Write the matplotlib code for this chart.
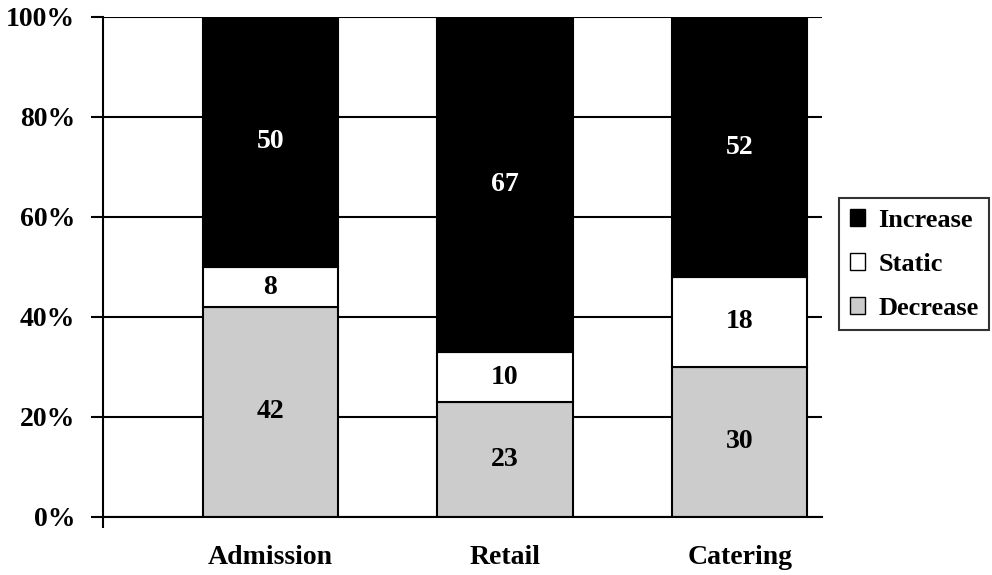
import matplotlib
matplotlib.use("Agg")
import matplotlib.pyplot as plt
from matplotlib.patches import Patch
import numpy as np

categories = ["Admission", "Retail", "Catering"]
decrease = [42, 23, 30]
static = [8, 10, 18]
increase = [50, 67, 52]
series_names = ["Increase", "Static", "Decrease"]
ytick_labels = ["0%", "20%", "40%", "60%", "80%", "100%"]

plt.rcParams['font.family'] = ['Liberation Serif', 'DejaVu Serif']
plt.rcParams['font.weight'] = 'bold'

fig = plt.figure(figsize=(9.92, 5.75), dpi=100)
ax = fig.add_axes([103/992, 1-517/575, (822-103)/992, (517-17)/575])

x = np.arange(len(categories))
w = 0.576
colors = {"Decrease": "#cccccc", "Static": "white", "Increase": "black"}
bottoms = np.zeros(len(categories))
for name, vals, tcol in [("Decrease", decrease, "black"), ("Static", static, "black"), ("Increase", increase, "white")]:
    vals = np.array(vals, dtype=float)
    ax.bar(x, vals, w, bottom=bottoms, color=colors[name], edgecolor="black", linewidth=1.5, zorder=3)
    for xi, b, v in zip(x, bottoms, vals):
        ax.text(xi, b + v/2, f"{int(v)}", ha="center", va="center", color=tcol,
                fontsize=20, fontweight="bold", zorder=4)
    bottoms += vals

ax.set_xlim(-0.712, 2.35)
ax.set_ylim(0, 100)
ax.set_yticks([0, 20, 40, 60, 80, 100])
ax.set_yticklabels(ytick_labels)
ax.yaxis.grid(True, color="black", linewidth=1.5, zorder=0)
ax.set_axisbelow(True)
for s in ["top", "right"]:
    ax.spines[s].set_visible(False)
for s in ["left", "bottom"]:
    ax.spines[s].set_linewidth(1.5)
    ax.spines[s].set_zorder(5)
ax.tick_params(axis="y", length=9, width=1.5, pad=11, labelsize=20)
ax.set_xticks(x)
ax.set_xticklabels(categories)
ax.tick_params(axis="x", length=0, pad=20, labelsize=20)
ax.set_xticks([-0.712], minor=True)
ax.tick_params(axis="x", which="minor", length=8, width=1.5)
for lab in ax.get_xticklabels() + ax.get_yticklabels():
    lab.set_fontweight("bold")

handles = [Patch(facecolor=colors[n], edgecolor="black", linewidth=1.0) for n in series_names]
leg = fig.legend(handles, series_names, loc="upper left", bbox_to_anchor=(839/992, 1-198/575),
                 frameon=True, fancybox=False, edgecolor="black", fontsize=19,
                 handlelength=0.6, handleheight=0.6, handletextpad=0.5, labelspacing=0.8,
                 borderpad=0.4, borderaxespad=0)
leg.get_frame().set_linewidth(1.5)
for t in leg.get_texts():
    t.set_fontweight("bold")

fig.savefig("out.png", dpi=100)
